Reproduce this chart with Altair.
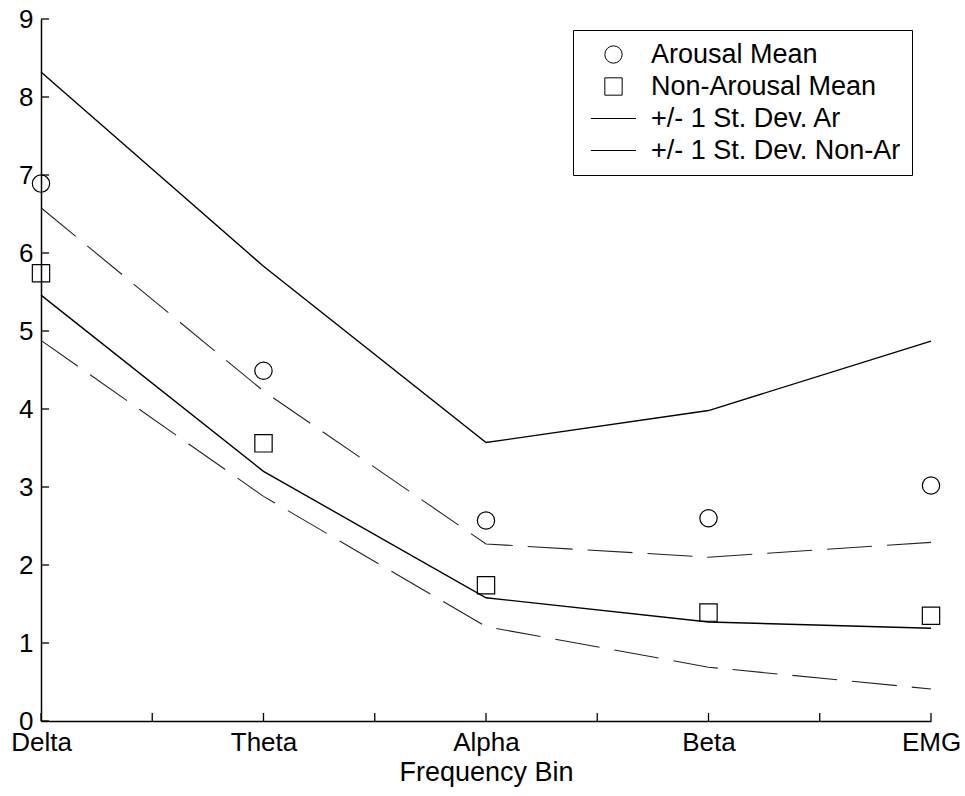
import json
import altair as alt
import pandas as pd

# Frequency bins along the x axis
categories = ["Delta", "Theta", "Alpha", "Beta", "EMG"]

# Mean spectral power per bin
arousal_mean = [6.89, 4.49, 2.57, 2.60, 3.02]
non_arousal_mean = [5.74, 3.56, 1.74, 1.39, 1.35]

# Mean +/- one standard deviation
arousal_upper = [8.32, 5.83, 3.57, 3.98, 4.87]
arousal_lower = [5.46, 3.20, 1.58, 1.27, 1.19]
non_arousal_upper = [6.58, 4.23, 2.27, 2.10, 2.29]
non_arousal_lower = [4.88, 2.88, 1.21, 0.69, 0.41]

series_names = [
    "Arousal Mean",
    "Non-Arousal Mean",
    "+/- 1 St. Dev. Ar",
    "+/- 1 St. Dev. Non-Ar",
]

# Axis tick positions (x: bin index, with minor ticks halfway between bins)
x_tick_values = [0, 0.5, 1, 1.5, 2, 2.5, 3, 3.5, 4]
x_label_values = [0, 1, 2, 3, 4]
y_tick_values = [0, 1, 2, 3, 4, 5, 6, 7, 8, 9]

FONT = "Liberation Sans"
W, H = 890, 702

points = pd.DataFrame(
    [{"idx": i, "bin": c, "value": v, "series": series_names[0]}
     for i, (c, v) in enumerate(zip(categories, arousal_mean))]
    + [{"idx": i, "bin": c, "value": v, "series": series_names[1]}
       for i, (c, v) in enumerate(zip(categories, non_arousal_mean))]
)

def band(name, values):
    return [{"idx": i, "bin": c, "value": v, "line": name}
            for i, (c, v) in enumerate(zip(categories, values))]

solid_lines = pd.DataFrame(band("ar_hi", arousal_upper) + band("ar_lo", arousal_lower))
dashed_lines = pd.DataFrame(band("nar_hi", non_arousal_upper) + band("nar_lo", non_arousal_lower))

x_scale = alt.Scale(domain=[0, 4], nice=False, zero=False)
y_scale = alt.Scale(domain=[0, 9], nice=False)

label_expr = json.dumps(categories) + "[datum.value]"

x_enc = alt.X(
    "idx:Q",
    scale=x_scale,
    axis=alt.Axis(
        values=x_label_values,
        labelExpr=label_expr,
        labelFlush=False,
        labelOverlap=False,
        ticks=False,
        grid=False,
        labelPadding=8,
        title="Frequency Bin",
        titlePadding=4,
    ),
)
y_enc = alt.Y(
    "value:Q",
    scale=y_scale,
    axis=alt.Axis(
        values=y_tick_values,
        format="d",
        ticks=False,
        grid=False,
        labelPadding=8,
        title=None,
    ),
)

solid = alt.Chart(solid_lines).mark_line(color="black", strokeWidth=1.4).encode(
    x=x_enc, y=y_enc, detail="line:N"
)
dashed = alt.Chart(dashed_lines).mark_line(
    color="#222222", strokeWidth=1.1, strokeDash=[45, 15]
).encode(x=x_enc, y=y_enc, detail="line:N")

markers = alt.Chart(points).mark_point(
    filled=False, color="black", strokeWidth=1.2, size=300, opacity=1
).encode(
    x=x_enc,
    y=y_enc,
    shape=alt.Shape(
        "series:N",
        scale=alt.Scale(
            domain=series_names,
            range=["circle", "square", "M-2.6,0H2.6", "M-2.6,0H2.6"],
        ),
        legend=alt.Legend(
            title=None,
            orient="none",
            legendX=532,
            legendY=11,
            padding=11,
            strokeColor="black",
            fillColor="white",
            symbolSize=300,
            symbolStrokeWidth=1,
            symbolStrokeColor="black",
            symbolOffset=16,
            labelOffset=24,
            labelFont=FONT,
            labelFontSize=27,
            labelColor="black",
            rowPadding=4,
            labelLimit=400,
        ),
    ),
)

# Inward-pointing tick marks along both axes
tick_df_y = pd.DataFrame({"value": y_tick_values})
tick_df_x = pd.DataFrame({"idx": x_tick_values})
y_ticks = alt.Chart(tick_df_y).mark_rule(color="black", strokeWidth=1.3).encode(
    y=alt.Y("value:Q", scale=y_scale), x=alt.value(0), x2=alt.value(8)
)
x_ticks = alt.Chart(tick_df_x).mark_rule(color="black", strokeWidth=1.3).encode(
    x=alt.X("idx:Q", scale=x_scale), y=alt.value(H), y2=alt.value(H - 8)
)

chart = (
    alt.layer(solid, dashed, y_ticks, x_ticks, markers)
    .properties(
        width=W,
        height=H,
        padding={"left": 41, "top": 19, "right": 34, "bottom": 75},
        autosize=alt.AutoSizeParams(type="none"),
        background="white",
    )
    .configure_view(strokeWidth=0)
    .configure_axis(
        domainColor="black",
        domainWidth=1.5,
        labelFont=FONT,
        labelFontSize=26,
        labelColor="black",
        titleFont=FONT,
        titleFontSize=27,
        titleFontWeight="normal",
        titleColor="black",
    )
)

chart.save("out.html", embed_options={"renderer": "svg", "actions": False})
